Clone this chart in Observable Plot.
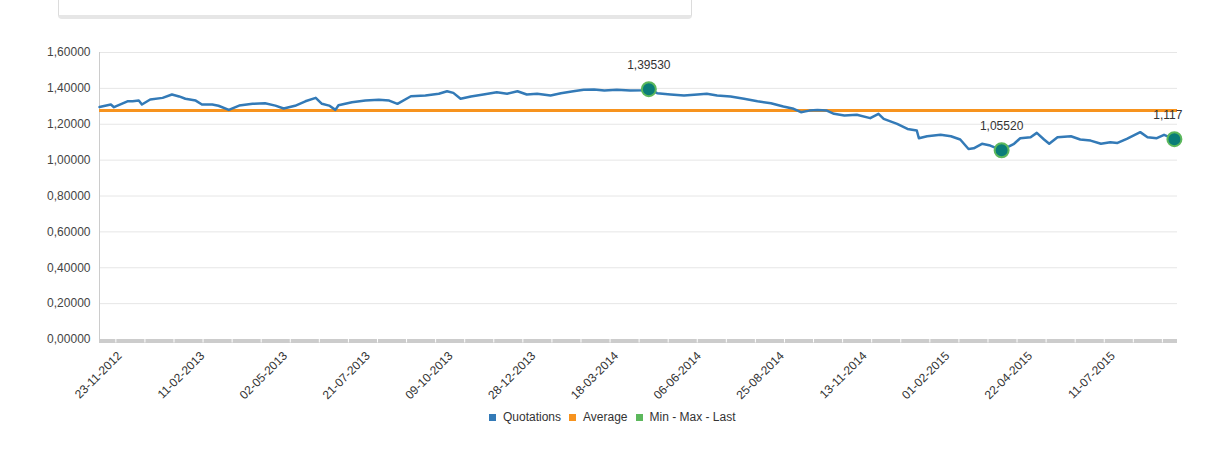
<!DOCTYPE html>
<html><head><meta charset="utf-8">
<script src="https://cdn.jsdelivr.net/npm/d3@7"></script>
<script src="https://cdn.jsdelivr.net/npm/@observablehq/plot@0.6"></script>
<style>
body{margin:0;background:#fff;font-family:"Liberation Sans",Arial,sans-serif;}
#wrap{position:relative;width:1232px;height:449px;overflow:hidden;}
#panel{position:absolute;left:58px;top:-4px;width:632px;height:19px;border:1px solid #dcdcdc;border-top:none;border-bottom:4px solid #e6e6e6;border-radius:0 0 4px 4px;background:#fff;}
#chart{position:absolute;left:0;top:0;}
#legend{position:absolute;top:410px;left:489px;display:flex;align-items:center;font-size:12px;color:#333;white-space:nowrap;}
#legend .sw{display:inline-block;width:7px;height:7px;margin-right:7px;}
#legend .it{display:flex;align-items:center;margin-right:8px;}
</style>
</head><body>
<div id="wrap"><div id="chart"></div><div id="panel"></div><div id="legend"></div></div>
<script>
const dates = ["2012-11-23","2012-12-04","2012-12-07","2012-12-20","2012-12-25","2012-12-31",
"2013-01-03","2013-01-11","2013-01-23","2013-02-01","2013-02-08","2013-02-14","2013-02-24",
"2013-03-02","2013-03-12","2013-03-18","2013-03-28","2013-04-07","2013-04-20","2013-05-02",
"2013-05-12","2013-05-20","2013-05-31","2013-06-10","2013-06-20","2013-06-26","2013-07-03",
"2013-07-09","2013-07-12","2013-07-25","2013-08-07","2013-08-20","2013-08-30","2013-09-07",
"2013-09-20","2013-10-04","2013-10-17","2013-10-25","2013-10-31","2013-11-07","2013-11-17",
"2013-11-29","2013-12-12","2013-12-22","2014-01-01","2014-01-10","2014-01-20","2014-02-02",
"2014-02-12","2014-02-24","2014-03-06","2014-03-16","2014-03-26","2014-04-07","2014-04-20",
"2014-05-03","2014-05-08","2014-05-16","2014-05-29","2014-06-11","2014-06-24","2014-07-03",
"2014-07-13","2014-07-26","2014-08-08","2014-08-21","2014-09-03","2014-09-15","2014-09-25",
"2014-10-02","2014-10-10","2014-10-18","2014-10-27","2014-11-03","2014-11-13","2014-11-25",
"2014-12-08","2014-12-16","2014-12-21","2015-01-03","2015-01-13","2015-01-22","2015-01-24",
"2015-02-01","2015-02-14","2015-02-24","2015-03-05","2015-03-13","2015-03-18","2015-03-26",
"2015-04-03","2015-04-14","2015-04-26","2015-05-02","2015-05-12","2015-05-18","2015-05-25",
"2015-05-30","2015-06-07","2015-06-20","2015-06-29","2015-07-09","2015-07-19","2015-07-28",
"2015-08-04","2015-08-13","2015-08-26","2015-09-02","2015-09-11","2015-09-18","2015-09-28"];
const quotations = [1.296,1.310,1.295,1.328,1.328,1.332,
1.310,1.338,1.347,1.366,1.355,1.342,1.332,
1.310,1.310,1.303,1.280,1.304,1.314,1.317,
1.304,1.288,1.303,1.328,1.347,1.314,1.304,
1.280,1.306,1.323,1.332,1.336,1.332,1.314,
1.356,1.360,1.370,1.384,1.375,1.342,1.355,
1.366,1.378,1.370,1.384,1.366,1.370,1.360,
1.373,1.384,1.392,1.394,1.388,1.392,1.388,
1.390,1.3953,1.373,1.366,1.360,1.366,1.370,
1.360,1.355,1.342,1.328,1.317,1.299,1.286,
1.267,1.276,1.280,1.276,1.258,1.249,1.253,
1.234,1.258,1.230,1.202,1.174,1.165,1.122,
1.133,1.141,1.133,1.115,1.062,1.066,1.091,
1.081,1.0552,1.091,1.122,1.128,1.152,1.115,
1.091,1.128,1.133,1.115,1.109,1.091,1.100,
1.096,1.119,1.156,1.128,1.122,1.141,1.117];
const average = 1.2765;
const mmlDates = ["2015-04-14","2014-05-08","2015-09-28"];
const mmlValues = [1.0552, 1.3953, 1.117];
const mmlLabels = ["1,05520", "1,39530", "1,117"];
const xTickLabels = ["23-11-2012","11-02-2013","02-05-2013","21-07-2013","09-10-2013","28-12-2013",
"18-03-2014","06-06-2014","25-08-2014","13-11-2014","01-02-2015","22-04-2015","11-07-2015"];
const yTicks = [0,0.2,0.4,0.6,0.8,1.0,1.2,1.4,1.6];
const xDomain = ["2012-11-23","2015-10-01"];
const legendItems = [["Quotations","#337ab7"],["Average","#f7931e"],["Min - Max - Last","#5cb85c"]];

const parseD = d3.utcParse("%Y-%m-%d");
const parseL = d3.utcParse("%d-%m-%Y");
const data = dates.map((d,i)=>({date:parseD(d), value:quotations[i]}));
const mml = mmlDates.map((d,i)=>({date:parseD(d), value:mmlValues[i], label:mmlLabels[i]}));
const mmlInner = mml.slice(0,2), mmlLast = mml.slice(2);
const labelDates = xTickLabels.map(s=>({date:parseL(s), label:s}));
const d0 = parseD(xDomain[0]).getTime();
const minorTicks = d3.range(37).map(i=>new Date(d0 + (15.8 + 28.1*i)*864e5));
const fmt = v => d3.format(".5f")(v).replace(".", ",");

const chart = Plot.plot({
  width:1232, height:449,
  marginTop:52, marginBottom:110, marginLeft:99, marginRight:55,
  style:{fontFamily:'"Liberation Sans", Arial, sans-serif', fontSize:"12px", color:"#333", background:"transparent", overflow:"visible"},
  x:{type:"utc", domain:xDomain.map(parseD), axis:null},
  y:{domain:[0,1.6], axis:null},
  marks:[
    Plot.gridY(yTicks, {stroke:"#e6e6e6", strokeOpacity:1}),
    Plot.axisY(yTicks, {tickSize:0, tickPadding:9, tickFormat:fmt, fontSize:12, fill:"#444", label:null}),
    Plot.ruleX([parseD(xDomain[0])], {y1:0, y2:1.6, stroke:"#cccccc"}),
    Plot.ruleY([0], {stroke:"#cccccc", strokeWidth:4, dy:1.5}),
    Plot.ruleX(minorTicks, {y1:0, y2:0, insetBottom:-3.5, stroke:"#ffffff", strokeWidth:1}),
    Plot.text(labelDates, {x:"date", y:()=>0, text:"label", rotate:-45, textAnchor:"end", lineAnchor:"bottom", dx:23, dy:17, fontSize:12, fill:"#333"}),
    Plot.ruleY([average], {stroke:"#f7931e", strokeWidth:3}),
    Plot.line(data, {x:"date", y:"value", stroke:"#337ab7", strokeWidth:2.5, strokeLinejoin:"round"}),
    Plot.dot(mml, {x:"date", y:"value", r:7, fill:"#0a7d78", stroke:"#5cb85c", strokeWidth:2}),
    Plot.text(mmlInner, {x:"date", y:"value", text:"label", dy:-24, fontSize:12, fill:"#333", textAnchor:"middle"}),
    Plot.text(mmlLast, {x:"date", y:"value", text:"label", dy:-24, dx:8, fontSize:12, fill:"#333", textAnchor:"end"})
  ]
});
document.getElementById("chart").appendChild(chart);

const lg = document.getElementById("legend");
legendItems.forEach(([name,color])=>{
  const it = document.createElement("div"); it.className="it";
  const sw = document.createElement("span"); sw.className="sw"; sw.style.background=color;
  const tx = document.createElement("span"); tx.textContent=name;
  it.appendChild(sw); it.appendChild(tx); lg.appendChild(it);
});
</script>
</body></html>
